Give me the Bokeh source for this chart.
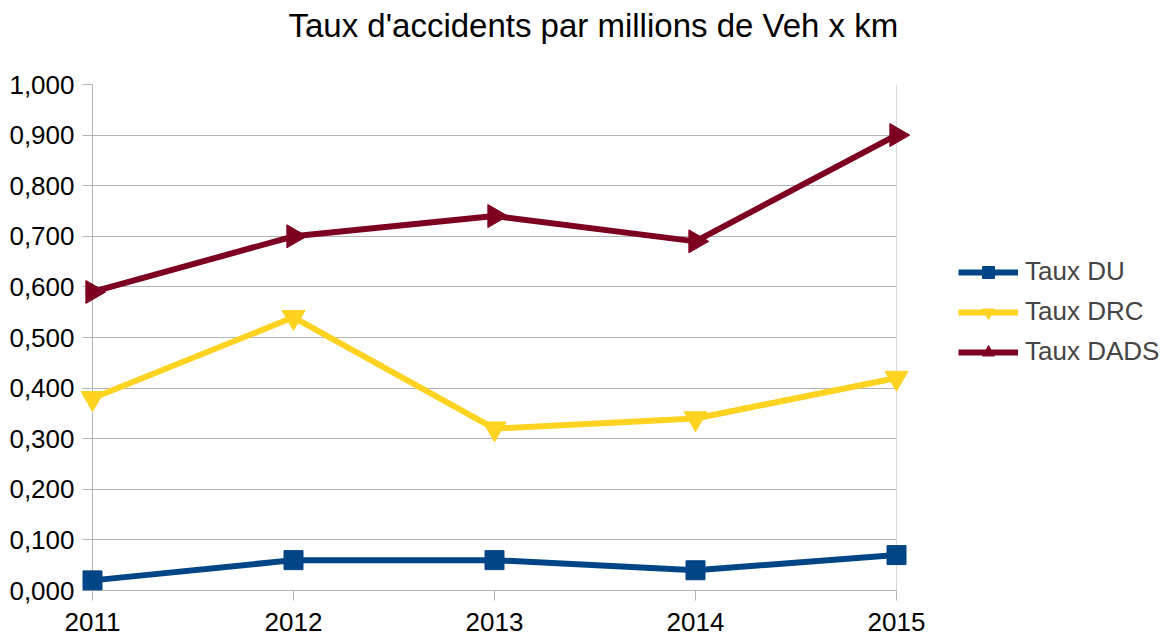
import numpy as np
from bokeh.plotting import figure
from bokeh.models import (Range1d, FixedTicker, Legend, LegendItem, Span, Title)
from bokeh.embed import file_html
from bokeh.resources import INLINE

years = [2011, 2012, 2013, 2014, 2015]
taux_du = [0.02, 0.06, 0.06, 0.04, 0.07]
taux_drc = [0.38, 0.54, 0.32, 0.34, 0.42]
taux_dads = [0.59, 0.70, 0.74, 0.69, 0.90]
y_ticks = [0.0, 0.1, 0.2, 0.3, 0.4, 0.5, 0.6, 0.7, 0.8, 0.9, 1.0]
y_tick_labels = ["0,000", "0,100", "0,200", "0,300", "0,400", "0,500",
                 "0,600", "0,700", "0,800", "0,900", "1,000"]

FONT = "Liberation Sans"
GRID = "#b3b3b3"

p = figure(frame_width=804, frame_height=506, output_backend="svg", toolbar_location=None,
           x_range=Range1d(2011, 2015), y_range=Range1d(0, 1),
           min_border_left=92, min_border_right=262, min_border_top=84,
           min_border_bottom=46)
p.outline_line_color = None
p.background_fill_color = "white"
p.border_fill_color = "white"

# spacer between frame and title (closest to the frame)
p.add_layout(Title(text=" ", text_font=FONT, text_font_size="1px",
                   standoff=38), "above")
p.add_layout(Title(text="Taux d'accidents par millions de Veh x km",
                   text_font=FONT, text_font_size="33px", text_font_style="normal",
                   text_color="black", align="left", offset=196, standoff=0), "above")

# axes
p.xaxis.ticker = FixedTicker(ticks=years)
p.xaxis.major_label_overrides = {y: str(y) for y in years}
p.yaxis.ticker = FixedTicker(ticks=y_ticks)
p.yaxis.major_label_overrides = {t: l for t, l in zip(y_ticks, y_tick_labels)}
for ax in (p.xaxis, p.yaxis):
    ax.major_label_text_font = FONT
    ax.major_label_text_font_size = "26px"
    ax.major_label_text_color = "black"
    ax.axis_line_color = GRID
    ax.major_tick_line_color = GRID
    ax.major_tick_out = 10
    ax.major_tick_in = 0
    ax.minor_tick_line_color = None
p.yaxis.major_label_standoff = 8
p.xaxis.major_label_standoff = 12

p.xgrid.grid_line_color = None
p.ygrid.grid_line_color = GRID
p.ygrid.ticker = FixedTicker(ticks=y_ticks)

p.add_layout(Span(location=2015, dimension="height", line_color=GRID, line_width=1))

series = [
    ("Taux DU", taux_du, "#004586", "square", 0.0, 19),
    ("Taux DRC", taux_drc, "#ffd320", "inverted_triangle", 0.0, 23),
    ("Taux DADS", taux_dads, "#7e0021", "triangle", -np.pi / 2, 23),
]
items = []
for name, vals, col, mk, ang, sz in series:
    r1 = p.line(years, vals, line_color=col, line_width=6, level="overlay")
    r2 = p.scatter(years, vals, marker=mk, size=sz, angle=ang,
                   fill_color=col, line_color=col, level="overlay")
    items.append(LegendItem(label=name, renderers=[r1, r2]))

legend = Legend(items=items, location=(62, 223), glyph_width=60, glyph_height=30,
                label_standoff=7, spacing=9, padding=0, margin=0,
                label_text_font=FONT, label_text_font_size="26px",
                border_line_color=None, background_fill_alpha=0)
p.add_layout(legend, "right")

open("out.html", "w").write(file_html(p, INLINE))
